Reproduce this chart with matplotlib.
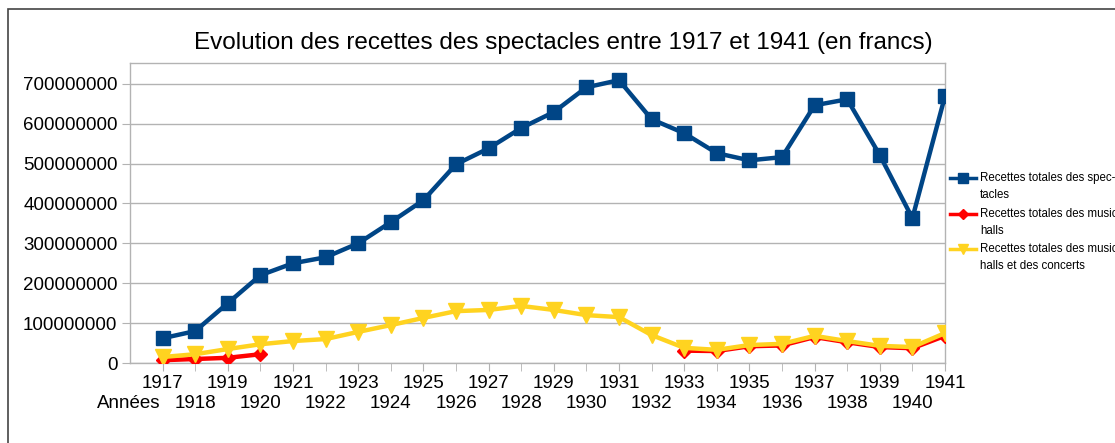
import matplotlib
matplotlib.use("Agg")
import matplotlib.pyplot as plt
from matplotlib.lines import Line2D
from matplotlib.patches import Rectangle

# data (francs)
years = list(range(1917, 1942))
total_spectacles = [
    62e6, 80e6, 150e6, 220e6, 250e6, 265e6, 300e6, 353e6, 408e6, 498e6,
    538e6, 589e6, 629e6, 691e6, 709e6, 611e6, 576e6, 526e6, 508e6, 516e6,
    646e6, 661e6, 521e6, 363e6, 669e6,
]
music_halls = [
    7e6, 10e6, 13e6, 22e6, None, None, None, None, None, None,
    None, None, None, None, None, None, 31e6, 30e6, 42e6, 44e6,
    65e6, 52e6, 40e6, 37e6, 68e6,
]
music_halls_concerts = [
    15e6, 22e6, 35e6, 47e6, 55e6, 60e6, 78e6, 95e6, 113e6, 130e6,
    133e6, 143e6, 133e6, 120e6, 115e6, 70e6, 38e6, 33e6, 45e6, 48e6,
    68e6, 55e6, 43e6, 40e6, 75e6,
]
labels = [
    "Recettes totales des spec-\ntacles",
    "Recettes totales des music\nhalls",
    "Recettes totales des music\nhalls et des concerts",
]

BLUE = "#004586"
RED = "#ff0000"
YELLOW = "#ffd320"
GRID = "#b3b3b3"

plt.rcParams["font.family"] = ["Liberation Sans", "DejaVu Sans"]

fig = plt.figure(figsize=(11.15, 4.43), dpi=100)
W, H = 1115, 443
ax = fig.add_axes([130 / W, 1 - 363 / H, (945 - 130) / W, (363 - 63) / H])

mh = [float("nan") if v is None else v for v in music_halls]
ax.plot(years, total_spectacles, color=BLUE, lw=3.2, marker="s", ms=10, zorder=3)
ax.plot(years, mh, color=RED, lw=3.2, marker="D", ms=7, zorder=4)
ax.plot(years, music_halls_concerts, color=YELLOW, lw=3.2, marker="v", ms=11, zorder=5)

ax.set_xlim(1916, 1941)
ax.set_ylim(0, 752e6)
ax.set_yticks(range(0, 700000001, 100000000))
ax.set_yticklabels([str(v) for v in range(0, 700000001, 100000000)], fontsize=13.5)
ax.yaxis.grid(True, color=GRID, lw=1)
ax.set_axisbelow(True)

ax.set_xticks(years[::2])
ax.set_xticks(years[1::2], minor=True)
ax.set_xticklabels([str(y) for y in years[::2]], fontsize=13.5)
ax.set_xticklabels([str(y) for y in years[1::2]], minor=True, fontsize=13.5)
ax.tick_params(axis="x", which="major", length=6, color=GRID, pad=3)
ax.tick_params(axis="x", which="minor", length=6, color=GRID, pad=17)
ax.tick_params(axis="y", length=6, color=GRID, pad=3)
for s in ax.spines.values():
    s.set_color(GRID)
    s.set_linewidth(1)

fig.text(129 / W, 1 - 403 / H, "Années", ha="center", va="center", fontsize=13.5)
fig.text(563 / W, 1 - 43 / H,
         "Evolution des recettes des spectacles entre 1917 et 1941 (en francs)",
         ha="center", va="center", fontsize=17.5)

# outer chart frame
fig.add_artist(Rectangle((8 / W, -0.1), 1.2, 1 - 9 / H + 0.1, transform=fig.transFigure,
                         fill=False, edgecolor="#444444", lw=1.2))

# legend, marker aligned to the first line of each label
leg_font = ["Liberation Sans Narrow", "Liberation Sans", "DejaVu Sans"]
entries = [(BLUE, "s", 7, 178), (RED, "D", 5, 214), (YELLOW, "v", 7, 249)]
for (col, mk, ms, y), lab in zip(entries, labels):
    yy = 1 - y / H
    fig.add_artist(Line2D([950 / W, 976 / W], [yy, yy], transform=fig.transFigure,
                          color=col, lw=2.5))
    fig.add_artist(Line2D([963 / W], [yy], transform=fig.transFigure, color=col,
                          marker=mk, ms=ms))
    fig.text(980 / W, yy + 6 / H, lab, ha="left", va="top", fontsize=8.3,
             family=leg_font, linespacing=1.55)

fig.savefig("out.png", dpi=100)
